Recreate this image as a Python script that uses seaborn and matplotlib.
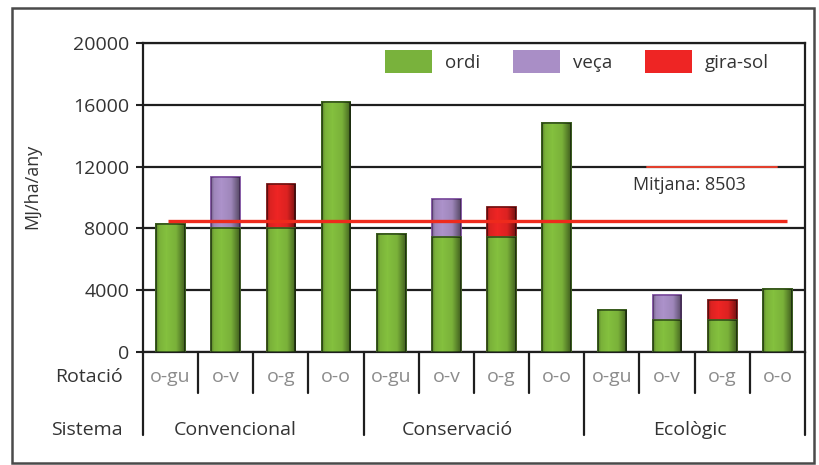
import numpy as np
import pandas as pd
import matplotlib
matplotlib.use("Agg")
import matplotlib.pyplot as plt
from matplotlib.patches import Rectangle, Patch
from matplotlib.lines import Line2D
from matplotlib.transforms import blended_transform_factory
import seaborn as sns

# Energy produced per rotation and management system (MJ/ha/any)
sistemes = ["Convencional", "Conservació", "Ecològic"]
rotacions = ["o-gu", "o-v", "o-g", "o-o"]
ordi = [8300, 8000, 8000, 16200, 7650, 7450, 7450, 14800, 2700, 2050, 2050, 4100]
veca = [0, 3300, 0, 0, 0, 2450, 0, 0, 0, 1650, 0, 0]
gira_sol = [0, 0, 2850, 0, 0, 0, 1950, 0, 0, 0, 1300, 0]
mitjana = 8503
yticks = [0, 4000, 8000, 12000, 16000, 20000]
crops = ["ordi", "veça", "gira-sol"]

colors = {"ordi": "#84C03E", "veça": "#AC92CA", "gira-sol": "#EE2524"}
legend_colors = {"ordi": "#79B23C", "veça": "#A98EC6", "gira-sol": "#EE2524"}
edges = {"ordi": "#3A5C1E", "veça": "#7E4FA0", "gira-sol": "#7A1414"}

W, H = 820, 465
sns.set_theme(style="white")
plt.rcParams["font.family"] = ["Open Sans", "DejaVu Sans"]

slots = [f"{s}|{r}" for s in sistemes for r in rotacions]
total = [o + v + g for o, v, g in zip(ordi, veca, gira_sol)]
top = ["veça" if v > 0 else ("gira-sol" if g > 0 else "ordi") for v, g in zip(veca, gira_sol)]
df = pd.DataFrame({"slot": slots, "ordi": ordi, "total": total, "top": top})

fig = plt.figure(figsize=(W / 100, H / 100), dpi=100)
ax = fig.add_axes([143 / W, 1 - 352 / H, (805 - 143) / W, (352 - 43) / H])

bw = 0.52
sns.barplot(data=df, x="slot", y="total", hue="top", palette=colors, dodge=False,
            width=bw, saturation=1, legend=False, ax=ax, zorder=3)
sns.barplot(data=df, x="slot", y="ordi", color=colors["ordi"], width=bw,
            saturation=1, ax=ax, zorder=4)

# edge colours and cylinder-like shading for each bar
rgb_to_crop = {tuple(np.round(matplotlib.colors.to_rgb(c), 3)): k for k, c in colors.items()}
xs = np.linspace(0, 1, 64)
shade = np.interp(xs, [0, 0.1, 0.35, 0.7, 1], [0.32, 0.08, 0.0, 0.08, 0.5])
for p in list(ax.patches):
    if p.get_height() <= 0:
        continue
    key = tuple(np.round(p.get_facecolor()[:3], 3))
    crop = rgb_to_crop.get(key, "ordi")
    p.set_edgecolor(edges[crop])
    p.set_linewidth(1.3)
    x0, y0 = p.get_x(), p.get_y()
    w, h = p.get_width(), p.get_height()
    img = np.zeros((1, len(xs), 4))
    img[0, :, 3] = shade
    im = ax.imshow(img, extent=[x0, x0 + w, y0, y0 + h], aspect="auto",
                   zorder=p.get_zorder() + 0.1, interpolation="bilinear")
    im.set_clip_path(p)

ax.set_xlim(-0.5, 11.5)
ax.set_ylim(0, 20000)
ax.set_yticks(yticks)
ax.set_yticklabels([str(v) for v in yticks])
ax.set_xticks([])
ax.set_xlabel("")
ax.set_ylabel("MJ/ha/any", fontsize=13, color="#333333")
ax.yaxis.set_label_coords(-0.153, 0.537)
ax.tick_params(axis="y", length=5, width=1.5, color="#222222", labelsize=14,
               labelcolor="#333333", pad=5, left=True)
ax.grid(axis="y", color="#1E1E1E", lw=1.6)
ax.set_axisbelow(True)
for s in ["left", "right", "top", "bottom"]:
    ax.spines[s].set_visible(True)
    ax.spines[s].set_color("#1E1E1E")
    ax.spines[s].set_linewidth(1.6)

# mean line and its label
ax.plot([-0.05, 11.18], [mitjana, mitjana], color="#EE2A1C", lw=2.4, zorder=6,
        solid_capstyle="butt")
ax.plot([8.63, 11.0], [12000, 12000], color="#E8402E", lw=1.4, zorder=2)
ax.text(8.38, 10800, f"Mitjana: {mitjana}", fontsize=13, color="#333333",
        ha="left", va="center", zorder=7)

# category table below the axis
tr = blended_transform_factory(ax.transData, ax.transAxes)
y_rot_line = (352 - 393) / (352 - 43)
y_sis_line = (352 - 435) / (352 - 43)
y_rot_text = (352 - 377) / (352 - 43)
y_sis_text = (352 - 430) / (352 - 43)
for k in range(13):
    bottom = y_sis_line if k % 4 == 0 else y_rot_line
    ax.add_line(Line2D([k - 0.5, k - 0.5], [0, bottom], transform=tr, color="#1E1E1E",
                       lw=1.6, clip_on=False))
for i, slot in enumerate(slots):
    ax.text(i, y_rot_text, slot.split("|")[1], transform=tr, ha="center", va="center",
            fontsize=14, color="#8C8C8C", clip_on=False)
for xc, name in zip([1.18, 5.19, 9.41], sistemes):
    ax.text(xc, y_sis_text, name, transform=tr, ha="center", va="center",
            fontsize=14, color="#333333", clip_on=False)
ax.text(-0.86, y_rot_text, "Rotació", transform=tr, ha="right", va="center",
        fontsize=14, color="#333333", clip_on=False)
ax.text(-0.86, y_sis_text, "Sistema", transform=tr, ha="right", va="center",
        fontsize=14, color="#333333", clip_on=False)

# legend
handles = [Patch(facecolor=legend_colors[c], edgecolor="none", label=c) for c in crops]
leg = ax.legend(handles=handles, ncol=3, loc="upper left",
                bbox_to_anchor=(385 / W, 1 - 50 / H), bbox_transform=fig.transFigure,
                frameon=False, fontsize=13.5, handlelength=2.5, handleheight=1.5,
                handletextpad=0.7, columnspacing=1.75, borderpad=0, borderaxespad=0)
for t in leg.get_texts():
    t.set_color("#333333")

# outer frame
fig.patches.append(Rectangle((12 / W, 1 - 463 / H), (814 - 12) / W, (463 - 8) / H,
                             transform=fig.transFigure, fill=False, edgecolor="#4A4A4A",
                             lw=1.8, zorder=10))

fig.savefig("out.png", dpi=100)
